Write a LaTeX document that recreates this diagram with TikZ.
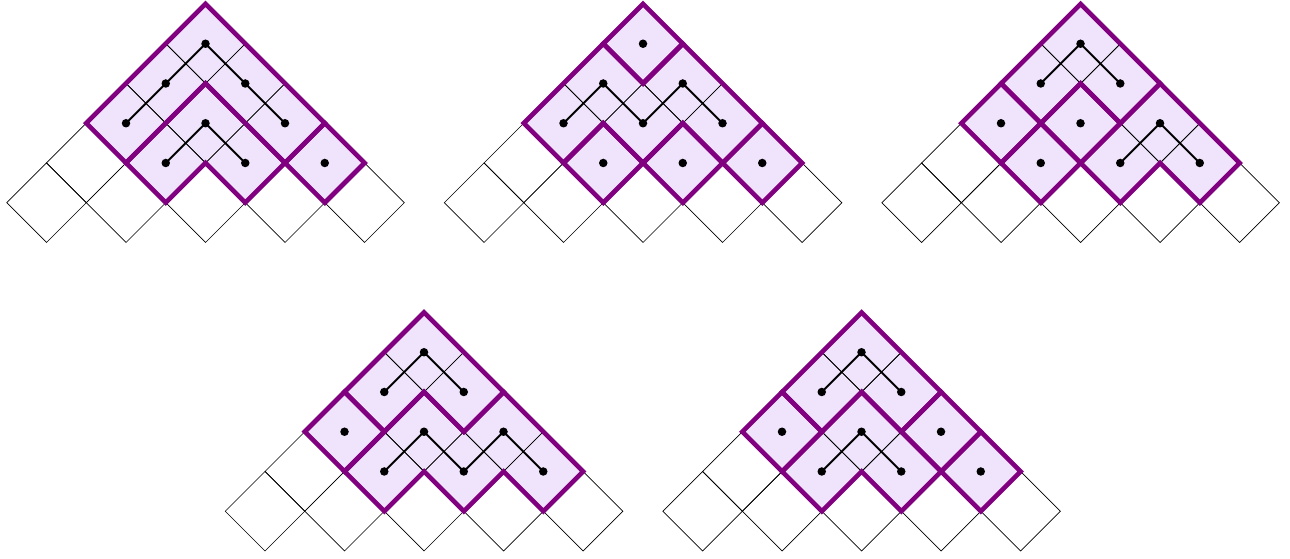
\documentclass[tikz,border=0pt]{standalone}
\usepackage{xcolor}
\definecolor{ribbonline}{RGB}{128,0,128}
\definecolor{ribbonfill}{RGB}{240,228,252}
\tikzset{
  gridcell/.style={draw=black, line width=0.7pt},
  piece/.style={draw=ribbonline, line width=4.6pt, line join=miter},
  region/.style={fill=ribbonfill},
  pathline/.style={draw=black, line width=1.9pt, line join=round},
  dotnode/.style={circle, fill=black, inner sep=0pt, minimum size=8.5pt},
  diagram/.style={x=39.75pt, y=39.75pt}
}
\newcommand\cellat[2]{({#1-1},{#2}) -- ({#1},{#2+1}) -- ({#1+1},{#2}) -- ({#1},{#2-1}) -- cycle}
\newcommand\basediagram{%
  \fill[region] (-3,3) -- (0,6) -- (4,2) -- (3,1) -- (2,2) -- (1,1) -- (0,2) -- (-1,1) -- (-2,2) -- cycle;
  \foreach \cx/\cy in {-4/1,-2/1,0/1,2/1,4/1,-3/2,-1/2,1/2,3/2,-2/3,0/3,2/3,-1/4,1/4,0/5}{
    \draw[gridcell] \cellat{\cx}{\cy};
  }%
}
\newcommand\singlepiece[2]{\draw[piece] \cellat{#1}{#2};}
\newcommand\hatpiece[2]{\draw[piece] ({#1-2},{#2-1}) -- ({#1},{#2+1}) -- ({#1+2},{#2-1}) -- ({#1+1},{#2-2}) -- ({#1},{#2-1}) -- ({#1-1},{#2-2}) -- cycle;}
\begin{document}
\begin{tikzpicture}
\useasboundingbox (0,0) rectangle (1290pt,559pt);

% ---------- Diagram 1 ----------
\begin{scope}[shift={(205.5pt,316.5pt)}, diagram]
  \basediagram
  \draw[piece] (-3,3) -- (0,6) -- (3,3) -- (2,2) -- (1,3) -- (0,4) -- (-1,3) -- (-2,2) -- cycle;
  \hatpiece{0}{3}
  \singlepiece{3}{2}
  \node[dotnode] (pa1) at (-2,3) {};
  \node[dotnode] (pa2) at (-1,4) {};
  \node[dotnode] (pa3) at (0,5) {};
  \node[dotnode] (pa4) at (1,4) {};
  \node[dotnode] (pa5) at (2,3) {};
  \node[dotnode] (pb1) at (-1,2) {};
  \node[dotnode] (pb2) at (0,3) {};
  \node[dotnode] (pb3) at (1,2) {};
  \node[dotnode] (pc1) at (3,2) {};
  \draw[pathline] (pa1.center) -- (pa2.center) -- (pa3.center) -- (pa4.center) -- (pa5.center);
  \draw[pathline] (pb1.center) -- (pb2.center) -- (pb3.center);
\end{scope}

% ---------- Diagram 2 ----------
\begin{scope}[shift={(643pt,316.5pt)}, diagram]
  \basediagram
  \singlepiece{0}{5}
  \draw[piece] (-3,3) -- (-1,5) -- (0,4) -- (1,5) -- (3,3) -- (2,2) -- (1,3) -- (0,2) -- (-1,3) -- (-2,2) -- cycle;
  \singlepiece{-1}{2}
  \singlepiece{1}{2}
  \singlepiece{3}{2}
  \node[dotnode] (qa1) at (0,5) {};
  \node[dotnode] (qb1) at (-2,3) {};
  \node[dotnode] (qb2) at (-1,4) {};
  \node[dotnode] (qb3) at (0,3) {};
  \node[dotnode] (qb4) at (1,4) {};
  \node[dotnode] (qb5) at (2,3) {};
  \node[dotnode] (qc1) at (-1,2) {};
  \node[dotnode] (qc2) at (1,2) {};
  \node[dotnode] (qc3) at (3,2) {};
  \draw[pathline] (qb1.center) -- (qb2.center) -- (qb3.center) -- (qb4.center) -- (qb5.center);
\end{scope}

% ---------- Diagram 3 ----------
\begin{scope}[shift={(1080.5pt,316.5pt)}, diagram]
  \basediagram
  \hatpiece{0}{5}
  \singlepiece{-2}{3}
  \singlepiece{0}{3}
  \singlepiece{-1}{2}
  \hatpiece{2}{3}
  \node[dotnode] (ra1) at (-1,4) {};
  \node[dotnode] (ra2) at (0,5) {};
  \node[dotnode] (ra3) at (1,4) {};
  \node[dotnode] (rb1) at (-2,3) {};
  \node[dotnode] (rb2) at (0,3) {};
  \node[dotnode] (rb3) at (-1,2) {};
  \node[dotnode] (rc1) at (1,2) {};
  \node[dotnode] (rc2) at (2,3) {};
  \node[dotnode] (rc3) at (3,2) {};
  \draw[pathline] (ra1.center) -- (ra2.center) -- (ra3.center);
  \draw[pathline] (rc1.center) -- (rc2.center) -- (rc3.center);
\end{scope}

% ---------- Diagram 4 ----------
\begin{scope}[shift={(424pt,8pt)}, diagram]
  \basediagram
  \hatpiece{0}{5}
  \singlepiece{-2}{3}
  \draw[piece] (-2,2) -- (0,4) -- (1,3) -- (2,4) -- (4,2) -- (3,1) -- (2,2) -- (1,1) -- (0,2) -- (-1,1) -- cycle;
  \node[dotnode] (sa1) at (-1,4) {};
  \node[dotnode] (sa2) at (0,5) {};
  \node[dotnode] (sa3) at (1,4) {};
  \node[dotnode] (sb1) at (-2,3) {};
  \node[dotnode] (sc1) at (-1,2) {};
  \node[dotnode] (sc2) at (0,3) {};
  \node[dotnode] (sc3) at (1,2) {};
  \node[dotnode] (sc4) at (2,3) {};
  \node[dotnode] (sc5) at (3,2) {};
  \draw[pathline] (sa1.center) -- (sa2.center) -- (sa3.center);
  \draw[pathline] (sc1.center) -- (sc2.center) -- (sc3.center) -- (sc4.center) -- (sc5.center);
\end{scope}

% ---------- Diagram 5 ----------
\begin{scope}[shift={(861.5pt,8pt)}, diagram]
  \basediagram
  \hatpiece{0}{5}
  \singlepiece{-2}{3}
  \hatpiece{0}{3}
  \singlepiece{2}{3}
  \singlepiece{3}{2}
  \node[dotnode] (ta1) at (-1,4) {};
  \node[dotnode] (ta2) at (0,5) {};
  \node[dotnode] (ta3) at (1,4) {};
  \node[dotnode] (tb1) at (-2,3) {};
  \node[dotnode] (tc1) at (-1,2) {};
  \node[dotnode] (tc2) at (0,3) {};
  \node[dotnode] (tc3) at (1,2) {};
  \node[dotnode] (td1) at (2,3) {};
  \node[dotnode] (te1) at (3,2) {};
  \draw[pathline] (ta1.center) -- (ta2.center) -- (ta3.center);
  \draw[pathline] (tc1.center) -- (tc2.center) -- (tc3.center);
\end{scope}
\end{tikzpicture}
\end{document}
